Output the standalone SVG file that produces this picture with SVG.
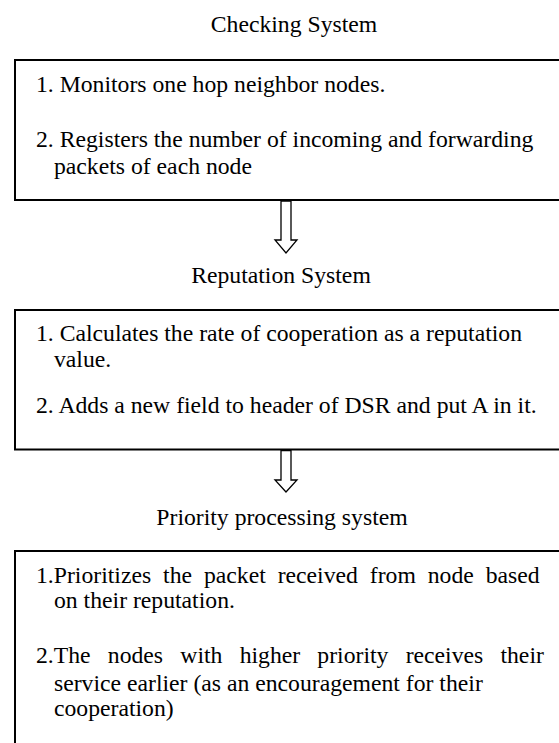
<svg xmlns="http://www.w3.org/2000/svg" width="559" height="743" viewBox="0 0 559 743">
<style>
.t{font-family:"Liberation Serif","Times New Roman",serif;font-size:23.7px;fill:#000}
.box{fill:none;stroke:#000;stroke-width:2}
.arr{fill:#fff;stroke:#000;stroke-width:1.3;stroke-linejoin:miter}
</style>
<rect width="559" height="743" fill="#fff"/>
<text class="t" x="294" y="32" text-anchor="middle">Checking System</text>
<g id="checking">
<rect class="box" x="15" y="60" width="560" height="140"/>
<text class="t" x="36" y="92">1. Monitors one hop neighbor nodes.</text>
<text class="t" x="36" y="147">2. Registers the number of incoming and forwarding</text>
<text class="t" x="54" y="174">packets of each node</text>
</g>
<text class="t" x="281" y="283" text-anchor="middle">Reputation System</text>
<g id="reputation">
<rect class="box" x="15" y="310" width="560" height="139.5"/>
<text class="t" x="36" y="341">1. Calculates the rate of cooperation as a reputation</text>
<text class="t" x="54" y="367">value.</text>
<text class="t" x="36" y="413">2. Adds a new field to header of DSR and put A in it.</text>
</g>
<text class="t" x="282" y="525" text-anchor="middle">Priority processing system</text>
<g id="priority">
<rect class="box" x="15" y="551" width="560" height="220"/>
<text class="t" x="36" y="583" word-spacing="6">1.Prioritizes the packet received from node based</text>
<text class="t" x="54" y="608">on their reputation.</text>
<text class="t" x="36" y="663" word-spacing="11.3">2.The nodes with higher priority receives their</text>
<text class="t" x="54" y="691">service earlier (as an encouragement for their</text>
<text class="t" x="54" y="716">cooperation)</text>
</g>
<g id="connectors">
<polygon class="arr" points="281,201 291,201 291,240 297,240 286,253 275,240 281,240"/>
<polygon class="arr" points="281,450.5 291,450.5 291,480 297,480 286,492 275,480 281,480"/>
</g>
</svg>
